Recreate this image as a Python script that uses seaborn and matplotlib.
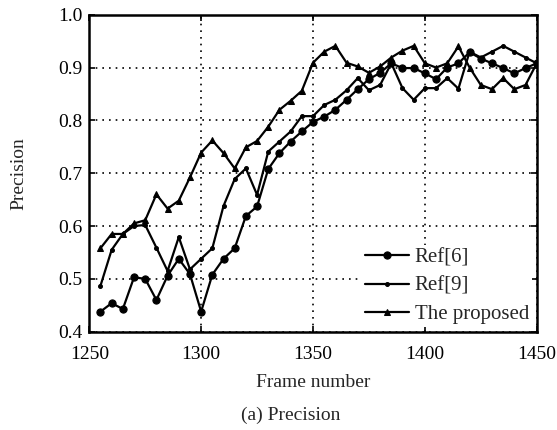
import numpy as np
import pandas as pd
import matplotlib
matplotlib.use("Agg")
import matplotlib.pyplot as plt
import seaborn as sns

frames = list(range(1255, 1451, 5))

ref6 = [0.438, 0.454, 0.443, 0.503, 0.500, 0.460, 0.506, 0.538, 0.509, 0.438,
        0.508, 0.538, 0.558, 0.619, 0.637, 0.708, 0.738, 0.760, 0.779, 0.797,
        0.807, 0.820, 0.839, 0.859, 0.878, 0.890, 0.908, 0.899, 0.899, 0.889,
        0.878, 0.900, 0.908, 0.929, 0.917, 0.908, 0.899, 0.889, 0.899, 0.908]

ref9 = [0.487, 0.555, 0.585, 0.600, 0.602, 0.559, 0.515, 0.579, 0.518, 0.538,
        0.558, 0.638, 0.689, 0.709, 0.659, 0.741, 0.760, 0.779, 0.808, 0.808,
        0.829, 0.839, 0.857, 0.880, 0.857, 0.867, 0.908, 0.861, 0.839, 0.861,
        0.861, 0.880, 0.860, 0.930, 0.919, 0.930, 0.941, 0.930, 0.919, 0.908]

proposed = [0.558, 0.585, 0.585, 0.605, 0.611, 0.660, 0.633, 0.648, 0.692, 0.739,
            0.762, 0.738, 0.709, 0.749, 0.761, 0.788, 0.820, 0.837, 0.856, 0.909,
            0.930, 0.941, 0.909, 0.902, 0.890, 0.902, 0.919, 0.932, 0.941, 0.908,
            0.900, 0.908, 0.940, 0.900, 0.867, 0.859, 0.880, 0.859, 0.867, 0.908]

series_names = ["Ref[6]", "Ref[9]", "The proposed"]
x_ticks = [1250, 1300, 1350, 1400, 1450]
y_ticks = [0.4, 0.5, 0.6, 0.7, 0.8, 0.9, 1.0]

sns.set_style("white")
plt.rcParams["font.family"] = ["Liberation Serif", "DejaVu Serif"]
plt.rcParams["mathtext.fontset"] = "stix"

fig = plt.figure(figsize=(5.57, 4.30), dpi=100)
ax = fig.add_axes([0.1603, 0.2286, 0.8033, 0.7372])

styles = [
    dict(marker="o", markersize=5.2),
    dict(marker="o", markersize=2.8),
    dict(marker="^", markersize=4),
]
for name, vals, st in zip(series_names, [ref6, ref9, proposed], styles):
    sns.lineplot(x=frames, y=vals, ax=ax, color="black", linewidth=1.6,
                 marker=st["marker"], markersize=st["markersize"],
                 markeredgecolor="black", markerfacecolor="black",
                 label=name)

ax.set_xlim(1250, 1450)
ax.set_ylim(0.4, 1.0)
ax.set_xticks(x_ticks)
ax.set_yticks(y_ticks)
ax.set_xticklabels([str(t) for t in x_ticks])
ax.set_yticklabels([f"{t:.1f}" for t in y_ticks])
ax.grid(True, color="black", linestyle=(0, (1, 3)), linewidth=1.2)
for s in ax.spines.values():
    s.set_visible(True)
    s.set_color("black")
    s.set_linewidth(1.8)
    s.set_zorder(6)
ax.tick_params(direction="in", length=4, width=1.2, labelsize=14,
               top=True, right=True, bottom=True, left=True, colors="black")
ax.tick_params(axis="x", pad=10)
ax.tick_params(axis="y", pad=5)
ax.set_xlabel("Frame number", fontsize=14, labelpad=8)
ax.set_ylabel("Precision", fontsize=14, labelpad=22)

leg = ax.legend(loc="lower right", frameon=True, fontsize=15,
                handlelength=2.1, handletextpad=0.3, labelspacing=0.42,
                borderaxespad=0.0, borderpad=0.15, fancybox=False,
                bbox_to_anchor=(0.99, 0.014))
leg.get_frame().set_facecolor("white")
leg.get_frame().set_edgecolor("none")
leg.get_frame().set_alpha(1.0)
leg.set_zorder(4)

fig.text(0.521, 0.035, "(a) Precision", ha="center", va="center", fontsize=14)

fig.savefig("out.png", dpi=100)
